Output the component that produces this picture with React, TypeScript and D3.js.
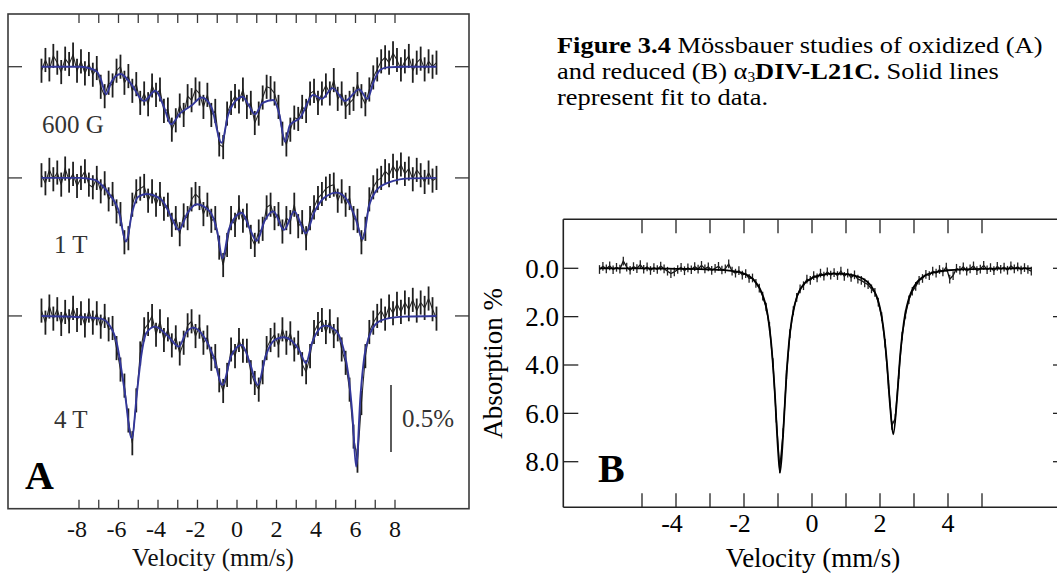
import React from 'react';
import * as d3 from 'd3';

const W = 1057;
const H = 575;
const FONT = '"Liberation Serif", "Times New Roman", serif';

// ---------- Panel A (oxidized) ----------
const velA = d3.range(101).map((i) => -9.9 + 0.2 * i);
const fieldLabels = ['600 G', '1 T', '4 T'];
const baselineOffsets = [0, 0.83, 1.86]; // % absorption offsets of stacked spectra
const errA = 0.09;

const data600G = [
  0.03, -0.05, 0.02, -0.08, -0.03, 0.04, -0.06, -0.02, -0.09, 0.03,
  -0.04, 0.05, -0.02, 0.06, 0.01, 0.15, 0.22, 0.12, 0.14, 0.03,
  0.0, 0.12, 0.07, 0.18, 0.13, 0.27, 0.2, 0.28, 0.14, 0.21,
  0.17, 0.33, 0.32, 0.47, 0.4, 0.29, 0.36, 0.22, 0.25, 0.17,
  0.2, 0.3, 0.21, 0.36, 0.33, 0.58, 0.6, 0.35, 0.27, 0.22,
  0.26, 0.17, 0.3, 0.27, 0.42, 0.35, 0.23, 0.15, 0.16, 0.2,
  0.3, 0.5, 0.58, 0.47, 0.38, 0.39, 0.3, 0.33, 0.2, 0.18,
  0.27, 0.2, 0.14, 0.2, 0.1, 0.24, 0.2, 0.3, 0.27, 0.24,
  0.13, 0.22, 0.28, 0.17, 0.08, 0.02, -0.04, -0.07, -0.03, -0.1,
  -0.05, 0.02, -0.04, -0.08, 0.03, -0.03, -0.06, 0.02, -0.04, 0.0,
  -0.03,
];
const data1T = [
  -0.02, 0.04, -0.06, 0.01, -0.04, 0.05, -0.07, 0.02, -0.03, 0.06,
  0.0, -0.05, 0.05, 0.07, 0.0, 0.1, 0.04, 0.16, 0.12, 0.25,
  0.27, 0.48, 0.45, 0.2, 0.1, 0.08, 0.06, 0.17, 0.1, 0.2,
  0.12, 0.23, 0.2, 0.35, 0.3, 0.42, 0.28, 0.3, 0.16, 0.12,
  0.15, 0.27, 0.2, 0.32, 0.3, 0.52, 0.65, 0.5, 0.3, 0.35,
  0.22, 0.32, 0.28, 0.44, 0.5, 0.4, 0.38, 0.22, 0.2, 0.3,
  0.27, 0.4, 0.3, 0.33, 0.2, 0.36, 0.33, 0.45, 0.3, 0.22,
  0.15, 0.12, 0.08, 0.06, 0.05, 0.17, 0.1, 0.2, 0.15, 0.3,
  0.32, 0.48, 0.38, 0.16, 0.07, 0.02, 0.0, -0.05, -0.02, -0.09,
  -0.04, -0.1, -0.03, -0.07, 0.01, -0.06, -0.02, 0.03, -0.04, 0.02,
  0.0,
];
const data4T = [
  -0.04, 0.05, -0.07, 0.02, -0.05, 0.06, -0.03, 0.04, -0.06, 0.03,
  -0.02, 0.07, -0.04, 0.05, -0.02, 0.08, 0.0, 0.1, 0.09, 0.24,
  0.4, 0.52, 0.78, 0.95, 0.63, 0.28, 0.1, 0.06, 0.0, 0.14,
  0.04, 0.18, 0.1, 0.22, 0.16, 0.28, 0.2, 0.07, 0.04, 0.15,
  0.08, 0.2, 0.16, 0.32, 0.3, 0.48, 0.56, 0.44, 0.25, 0.3,
  0.18, 0.26, 0.26, 0.42, 0.5, 0.55, 0.42, 0.24, 0.18, 0.14,
  0.22, 0.1, 0.2, 0.13, 0.25, 0.2, 0.36, 0.42, 0.3, 0.12,
  0.06, 0.03, 0.12, 0.04, 0.15, 0.1, 0.25, 0.35, 0.55, 0.9,
  1.08, 0.65, 0.3, 0.12, 0.05, 0.0, -0.04, 0.02, -0.07, -0.02,
  -0.09, -0.03, -0.1, -0.05, -0.12, -0.04, -0.1, -0.06, -0.13, -0.05,
  0.02,
];

const fit600G: [number, number][] = [
  [-9.9, 0], [-8.0, 0], [-7.5, 0.01], [-7.1, 0.037], [-6.9, 0.09], [-6.63, 0.206],
  [-6.35, 0.11], [-5.89, 0.054], [-5.4, 0.12], [-4.71, 0.256], [-4.13, 0.18],
  [-3.7, 0.3], [-3.34, 0.43], [-2.9, 0.35], [-2.3, 0.29], [-1.79, 0.23],
  [-1.3, 0.3], [-0.78, 0.567], [-0.45, 0.36], [-0.2, 0.28], [0.29, 0.224],
  [0.6, 0.29], [0.91, 0.355], [1.3, 0.27], [1.84, 0.249], [2.15, 0.36],
  [2.43, 0.56], [2.68, 0.435], [3.2, 0.38], [3.86, 0.21], [4.29, 0.24],
  [4.84, 0.16], [5.47, 0.256], [6.19, 0.169], [6.6, 0.24], [6.9, 0.12],
  [7.24, 0.025], [7.6, 0.005], [8.5, 0], [10.1, 0],
];
const fit1T: [number, number][] = [
  [-9.9, 0], [-8.0, 0], [-7.2, 0.015], [-6.8, 0.06], [-6.43, 0.127], [-6.0, 0.24],
  [-5.62, 0.475], [-5.3, 0.25], [-5.0, 0.14], [-4.57, 0.12], [-3.81, 0.164],
  [-3.3, 0.3], [-2.94, 0.388], [-2.5, 0.26], [-2.04, 0.196], [-1.37, 0.25],
  [-1.0, 0.4], [-0.73, 0.6], [-0.4, 0.38], [0.24, 0.26], [0.65, 0.38],
  [1.0, 0.47], [1.4, 0.32], [1.84, 0.25], [2.38, 0.388], [2.9, 0.25],
  [3.49, 0.413], [3.9, 0.26], [4.4, 0.15], [5.05, 0.11], [5.6, 0.17],
  [6.0, 0.3], [6.36, 0.458], [6.7, 0.2], [7.07, 0.09], [7.5, 0.045],
  [7.92, 0.022], [8.5, 0.005], [10.1, 0],
];
const fit4T: [number, number][] = [
  [-9.9, 0], [-8.5, 0.005], [-7.5, 0.012], [-6.9, 0.02], [-6.5, 0.06], [-6.09, 0.2],
  [-5.7, 0.55], [-5.33, 0.913], [-5.05, 0.55], [-4.85, 0.3], [-4.6, 0.13],
  [-4.15, 0.08], [-3.5, 0.15], [-2.94, 0.229], [-2.6, 0.13], [-2.21, 0.087],
  [-1.7, 0.15], [-1.2, 0.3], [-0.73, 0.515], [-0.3, 0.3], [0.24, 0.216],
  [0.65, 0.35], [1.05, 0.515], [1.45, 0.3], [1.9, 0.18], [2.34, 0.159],
  [2.8, 0.19], [3.2, 0.27], [3.49, 0.353], [3.8, 0.2], [4.46, 0.072],
  [5.0, 0.11], [5.4, 0.25], [5.65, 0.45], [5.85, 0.75], [6.03, 1.125],
  [6.25, 0.6], [6.45, 0.3], [6.7, 0.15], [7.07, 0.055], [7.6, 0.02],
  [8.5, 0.005], [10.1, 0],
];
const seriesA = [data600G, data1T, data4T];
const fitsA = [fit600G, fit1T, fit4T];
const ticksA = d3.range(-8, 9);
const tickLabelsA = [-8, -6, -4, -2, 0, 2, 4, 6, 8];

// ---------- Panel B (reduced) ----------
const velB = d3.range(128).map((i) => -6.25 + 0.1 * i);
const errB = 0.18;
const dataB = [
  0.05, -0.08, 0.02, -0.1, 0.06, -0.04, 0.03, -0.3, -0.05, 0.08,
  -0.07, 0.01, -0.15, 0.04, -0.06, 0.09, -0.03, 0.05, -0.09, 0.02,
  0.12, 0.22, 0.15, 0.05, -0.04, 0.1, -0.02, 0.06, -0.07, 0.03,
  -0.12, 0.02, -0.06, 0.09, 0.0, -0.08, 0.07, 0.02, -0.18, 0.12,
  0.2, 0.1, 0.28, 0.22, 0.42, 0.4, 0.62, 0.82, 1.15, 1.6,
  2.4, 3.9, 6.2, 8.3, 6.8, 4.4, 2.7, 1.75, 1.2, 0.85,
  0.72, 0.45, 0.5, 0.3, 0.4, 0.2, 0.32, 0.15, 0.28, 0.18,
  0.3, 0.12, 0.33, 0.2, 0.38, 0.27, 0.45, 0.5, 0.6, 0.68,
  0.85, 1.0, 1.4, 2.0, 3.1, 4.8, 6.5, 6.2, 4.4, 2.8,
  1.9, 1.3, 0.95, 0.75, 0.5, 0.42, 0.25, 0.3, 0.12, 0.2,
  0.05, 0.15, -0.05, 0.45, 0.3, 0.0, 0.08, -0.06, 0.12, 0.02,
  -0.1, 0.1, 0.03, -0.12, 0.06, -0.03, 0.1, -0.08, 0.04, -0.05,
  0.08, -0.1, 0.02, -0.06, 0.07, -0.03, 0.05, 0.12,
];
const fitB: [number, number][] = [
  [-6.25, 0], [-5.0, 0], [-4.0, 0.02], [-3.0, 0.05], [-2.5, 0.09], [-2.0, 0.22],
  [-1.7, 0.5], [-1.5, 0.94], [-1.3, 1.96], [-1.2, 3.1], [-1.1, 5.0], [-1.0, 7.5],
  [-0.94, 8.45], [-0.85, 6.9], [-0.75, 4.4], [-0.65, 2.7], [-0.5, 1.45], [-0.3, 0.77],
  [0, 0.4], [0.3, 0.27], [0.6, 0.22], [0.9, 0.23], [1.2, 0.28], [1.5, 0.43],
  [1.7, 0.66], [1.9, 1.15], [2.0, 1.64], [2.1, 2.47], [2.2, 3.85], [2.3, 5.75],
  [2.39, 6.87], [2.5, 5.4], [2.6, 3.5], [2.7, 2.25], [2.9, 1.05], [3.3, 0.32],
  [3.6, 0.17], [4.0, 0.08], [5.0, 0.02], [6.45, 0],
];
const ticksB = d3.range(-5, 6);
const tickLabelsB = [-4, -2, 0, 2, 4];
const yTicksB = [0, 2, 4, 6, 8];

export default function App() {
  // Panel A scales
  const xA = d3.scaleLinear().domain([-8, 8]).range([79, 395]);
  const yA = d3.scaleLinear().domain([0, 0.5]).range([66.7, 133.7]);
  const frameA = { l: 8, t: 14, r: 469, b: 508.7 };
  const fitLineA = d3
    .line<[number, number]>()
    .x((d) => xA(d[0]))
    .y((d) => yA(d[1]))
    .curve(d3.curveMonotoneX);

  // Panel B scales
  const xB = d3.scaleLinear().domain([-5, 5]).range([642, 982]);
  const yB = d3.scaleLinear().domain([0, 8]).range([268.3, 461.7]);
  const frameB = { l: 563.3, t: 219.3, r: 1068, b: 507.3 };
  const fitLineB = d3
    .line<[number, number]>()
    .x((d) => xB(d[0]))
    .y((d) => yB(d[1]))
    .curve(d3.curveMonotoneX);
  const dataLineB = d3
    .line<number>()
    .x((_, i) => xB(velB[i]))
    .y((d) => yB(d));

  const axisCol = '#3a3a3a';
  const blue = '#33379a';
  const capX = 557;

  return (
    <svg
      width={W}
      height={H}
      style={{ position: 'absolute', left: 0, top: 0, background: '#fff' }}
      fontFamily={FONT}
    >
      {/* ---------------- Panel A ---------------- */}
      <rect
        x={frameA.l}
        y={frameA.t}
        width={frameA.r - frameA.l}
        height={frameA.b - frameA.t}
        fill="none"
        stroke={axisCol}
        strokeWidth={1.6}
      />
      {ticksA.map((t) => (
        <g key={'ta' + t} stroke={axisCol} strokeWidth={1.3}>
          <line x1={xA(t)} x2={xA(t)} y1={frameA.t} y2={frameA.t + 9} />
          <line x1={xA(t)} x2={xA(t)} y1={frameA.b} y2={frameA.b - 9} />
        </g>
      ))}
      {baselineOffsets.map((o, k) => (
        <g key={'bl' + k} stroke={axisCol} strokeWidth={1.3}>
          <line x1={frameA.l} x2={frameA.l + 14} y1={yA(o)} y2={yA(o)} />
          <line x1={frameA.r} x2={frameA.r - 14} y1={yA(o)} y2={yA(o)} />
        </g>
      ))}
      {tickLabelsA.map((t) => (
        <text
          key={'tla' + t}
          x={xA(t) - (t < 0 ? 2 : 0)}
          y={537}
          fontSize={24}
          textAnchor="middle"
          fill="#111"
        >
          {t}
        </text>
      ))}
      <text x={213} y={566} fontSize={25} textAnchor="middle" fill="#111">
        Velocity (mm/s)
      </text>

      {seriesA.map((series, k) => {
        const off = baselineOffsets[k];
        const pts = series.map((d, i) => [xA(velA[i]), yA(d + off)] as [number, number]);
        return (
          <g key={'sa' + k}>
            <path
              d={d3.line()(pts) || ''}
              fill="none"
              stroke="#2a2a2a"
              strokeWidth={1.1}
            />
            {series.map((d, i) => (
              <line
                key={i}
                x1={xA(velA[i])}
                x2={xA(velA[i])}
                y1={yA(d + off - errA)}
                y2={yA(d + off + errA)}
                stroke="#1e1e1e"
                strokeWidth={1.8}
              />
            ))}
            <path
              d={fitLineA(fitsA[k].map((p) => [p[0], p[1] + off] as [number, number])) || ''}
              fill="none"
              stroke={blue}
              strokeWidth={1.9}
            />
          </g>
        );
      })}

      <text x={42} y={133} fontSize={25} fill="#333">{fieldLabels[0]}</text>
      <text x={54} y={252.7} fontSize={25} fill="#333">{fieldLabels[1]}</text>
      <text x={54} y={428.3} fontSize={25} fill="#333">{fieldLabels[2]}</text>

      <line
        x1={391}
        x2={391}
        y1={yA(0.5) + 318.3}
        y2={yA(0) + 318.3}
        stroke="#333"
        strokeWidth={1.6}
      />
      <text x={402} y={427} fontSize={25} fill="#333">0.5%</text>
      <text x={25} y={489.3} fontSize={40} fontWeight="bold" fill="#000">A</text>

      {/* ---------------- Caption ---------------- */}
      <g
        fontSize={24}
        fill="#000"
        transform={`translate(${capX},0) scale(1.1,1) translate(${-capX},0)`}
      >
        <text x={capX} y={53}>
          <tspan fontWeight="bold">Figure 3.4</tspan>
          {' Mössbauer studies of oxidized (A)'}
        </text>
        <text x={capX} y={79}>
          {'and reduced (B) α'}
          <tspan fontSize={14} dy={3}>3</tspan>
          <tspan dy={-3} fontWeight="bold">DIV-L21C.</tspan>
          {' Solid lines'}
        </text>
        <text x={capX} y={105}>represent fit to data.</text>
      </g>

      {/* ---------------- Panel B ---------------- */}
      <g stroke="#222" strokeWidth={1.6} fill="none">
        <line x1={frameB.l} x2={frameB.r} y1={frameB.t} y2={frameB.t} />
        <line x1={frameB.l} x2={frameB.r} y1={frameB.b} y2={frameB.b} />
        <line x1={frameB.l} x2={frameB.l} y1={frameB.t} y2={frameB.b} />
        <line x1={frameB.r} x2={frameB.r} y1={frameB.t} y2={frameB.b} />
      </g>
      {ticksB.map((t) => (
        <g key={'tb' + t} stroke="#222" strokeWidth={1.3}>
          <line x1={xB(t)} x2={xB(t)} y1={frameB.t} y2={frameB.t + 14} />
          <line x1={xB(t)} x2={xB(t)} y1={frameB.b} y2={frameB.b - 14} />
        </g>
      ))}
      {yTicksB.map((t) => (
        <g key={'ytb' + t} stroke="#222" strokeWidth={1.3}>
          <line x1={frameB.l} x2={frameB.l + 15} y1={yB(t)} y2={yB(t)} />
          <line x1={frameB.r} x2={frameB.r - 15} y1={yB(t)} y2={yB(t)} />
        </g>
      ))}
      {yTicksB.map((t) => (
        <text
          key={'ytl' + t}
          x={559}
          y={yB(t)}
          dy="0.35em"
          fontSize={27}
          textAnchor="end"
          fill="#000"
        >
          {t.toFixed(1)}
        </text>
      ))}
      {tickLabelsB.map((t) => (
        <text
          key={'tlb' + t}
          x={xB(t) - (t < 0 ? 4 : 0)}
          y={532}
          fontSize={26}
          textAnchor="middle"
          fill="#000"
        >
          {t}
        </text>
      ))}
      <text x={813} y={567} fontSize={27} textAnchor="middle" fill="#000">
        Velocity (mm/s)
      </text>
      <text
        transform={`translate(502,${(frameB.t + frameB.b) / 2}) rotate(-90)`}
        fontSize={27}
        textAnchor="middle"
        fill="#000"
      >
        Absorption %
      </text>

      <path d={dataLineB(dataB) || ''} fill="none" stroke="#111" strokeWidth={1.3} />
      {dataB.map((d, i) => (
        <line
          key={'db' + i}
          x1={xB(velB[i])}
          x2={xB(velB[i])}
          y1={yB(d - errB)}
          y2={yB(d + errB)}
          stroke="#222"
          strokeWidth={1.3}
        />
      ))}
      <path d={fitLineB(fitB) || ''} fill="none" stroke="#000" strokeWidth={1.8} />

      <text x={598} y={481.7} fontSize={40} fontWeight="bold" fill="#000">B</text>
    </svg>
  );
}
